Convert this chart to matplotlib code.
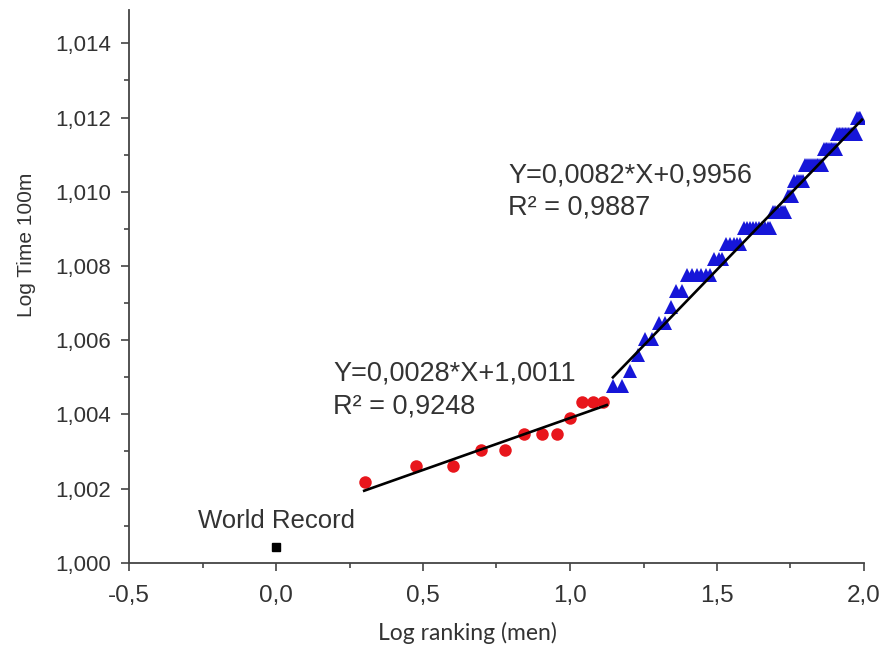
import numpy as np
import matplotlib
matplotlib.use("Agg")
import matplotlib.pyplot as plt
from matplotlib.ticker import MultipleLocator, FuncFormatter

# ---- data ----
# red group: ranking 2..13, times (s)
red_rank = [2, 3, 4, 5, 6, 7, 8, 9, 10, 11, 12, 13]
red_time = [10.05, 10.06, 10.06, 10.07, 10.07, 10.08, 10.08, 10.08, 10.09, 10.10, 10.10, 10.10]

# blue group: ranking 14..97, times (s)
blue_rank = [14, 15, 16, 17, 18, 19, 20, 21, 22, 23, 24, 25, 26, 27, 28, 29, 30,
             31, 32, 33, 34, 35, 36, 37, 38, 39, 40, 41, 42, 43, 44, 45, 46, 47, 48,
             49, 50, 51, 52, 53, 54, 55, 56, 57, 58, 59, 60, 61, 62,
             63, 64, 65, 66, 67, 68, 69, 70, 71, 72, 73, 74, 75, 76, 77, 78, 79, 80,
             81, 82, 83, 84, 85, 86, 87, 88, 89, 90, 91, 92, 93, 94, 95, 96, 97]
blue_time = [10.11, 10.11, 10.12, 10.13, 10.14, 10.14, 10.15, 10.15, 10.16, 10.17, 10.17,
             10.18, 10.18, 10.18, 10.18, 10.18, 10.18,
             10.19, 10.19, 10.19, 10.20, 10.20, 10.20, 10.20, 10.20,
             10.21, 10.21, 10.21, 10.21, 10.21, 10.21, 10.21, 10.21, 10.21, 10.21,
             10.22, 10.22, 10.22, 10.22, 10.22, 10.22, 10.23, 10.23, 10.23,
             10.24, 10.24, 10.24, 10.24, 10.24,
             10.25, 10.25, 10.25, 10.25, 10.25, 10.25, 10.25, 10.25, 10.25, 10.25,
             10.26, 10.26, 10.26, 10.26, 10.26, 10.26, 10.26, 10.26,
             10.27, 10.27, 10.27, 10.27, 10.27, 10.27, 10.27, 10.27, 10.27, 10.27,
             10.27, 10.27, 10.27, 10.27, 10.28, 10.28, 10.28]

wr_x = [0.0]
wr_y = [1.00043]

# fit lines (from the annotations)
red_fit = (0.0028, 1.0011)
red_fit_x = [0.30, 1.125]
blue_fit = (0.0082, 0.9956)
blue_fit_x = [1.146, 1.993]

red_label = ["Y=0,0028*X+1,0011", "R² = 0,9248"]
blue_label = ["Y=0,0082*X+0,9956", "R² = 0,9887"]

x_ticks = [-0.5, 0.0, 0.5, 1.0, 1.5, 2.0]
y_ticks = [1.000, 1.002, 1.004, 1.006, 1.008, 1.010, 1.012, 1.014]

# ---- plot ----
plt.rcParams['font.family'] = ['Liberation Sans', 'DejaVu Sans']
W, H = 886, 648
fig = plt.figure(figsize=(W / 100, H / 100), dpi=100)
ax = fig.add_axes([129 / W, 1 - 562.7 / H, (864 - 129) / W, (562.7 - 10) / H])

rx = np.log10(red_rank)
ry = np.log10(red_time)
bx = np.log10(blue_rank)
by = np.log10(blue_time)

ax.plot(bx, by, linestyle='none', marker='^', markersize=10, color='#1616d8',
        markeredgewidth=0, zorder=3)
ax.plot(rx, ry, linestyle='none', marker='o', markersize=9, color='#e8161c',
        markeredgewidth=0, zorder=3)
ax.plot(wr_x, wr_y, linestyle='none', marker='s', markersize=6, color='black', zorder=3)

for (m, b), xs in ((red_fit, red_fit_x), (blue_fit, blue_fit_x)):
    xs = np.array(xs)
    ax.plot(xs, m * xs + b, color='black', linewidth=1.9, zorder=4)

tc = '#333333'
ax.text(0.0, 1.00112, "World Record", ha='center', va='center', fontsize=18.5, color=tc)
ax.text(0.194, 1.00511, red_label[0], ha='left', va='center', fontsize=19.5, color=tc)
ax.text(0.194, 1.00422, red_label[1], ha='left', va='center', fontsize=19.5, color=tc)
ax.text(0.789, 1.01045, blue_label[0], ha='left', va='center', fontsize=19.5, color=tc)
ax.text(0.789, 1.00958, blue_label[1], ha='left', va='center', fontsize=19.5, color=tc)

ax.set_xlim(-0.5, 2.0)
ax.set_ylim(1.0, 1.0149)
ax.set_xticks(x_ticks)
ax.set_yticks(y_ticks)
ax.xaxis.set_minor_locator(MultipleLocator(0.25))
ax.yaxis.set_minor_locator(MultipleLocator(0.001))
ax.xaxis.set_major_formatter(FuncFormatter(lambda v, p: f"{v:.1f}".replace('.', ',')))
ax.yaxis.set_major_formatter(FuncFormatter(lambda v, p: f"{v:.3f}".replace('.', ',')))

for s in ('top', 'right'):
    ax.spines[s].set_visible(False)
for s in ('left', 'bottom'):
    ax.spines[s].set_color('#444444')
    ax.spines[s].set_linewidth(1.3)

ax.tick_params(axis='both', which='major', direction='out', length=6, width=1.2,
               colors='#444444', labelcolor=tc)
ax.tick_params(axis='both', which='minor', direction='out', length=3.5, width=1.2,
               colors='#444444')
ax.tick_params(axis='y', which='major', pad=7, labelsize=16)
ax.tick_params(axis='x', which='major', pad=10, labelsize=17.5)

fig.text(26 / W, 1 - 245 / H, "Log Time 100m", rotation=90, ha='center', va='center',
         fontsize=15, color=tc)
fig.text(467 / W, 1 - 633 / H, "Log ranking (men)", ha='center', va='center',
         fontsize=16.5, color=tc, family=['Lato', 'DejaVu Sans'])

fig.savefig("out.png", dpi=100)
